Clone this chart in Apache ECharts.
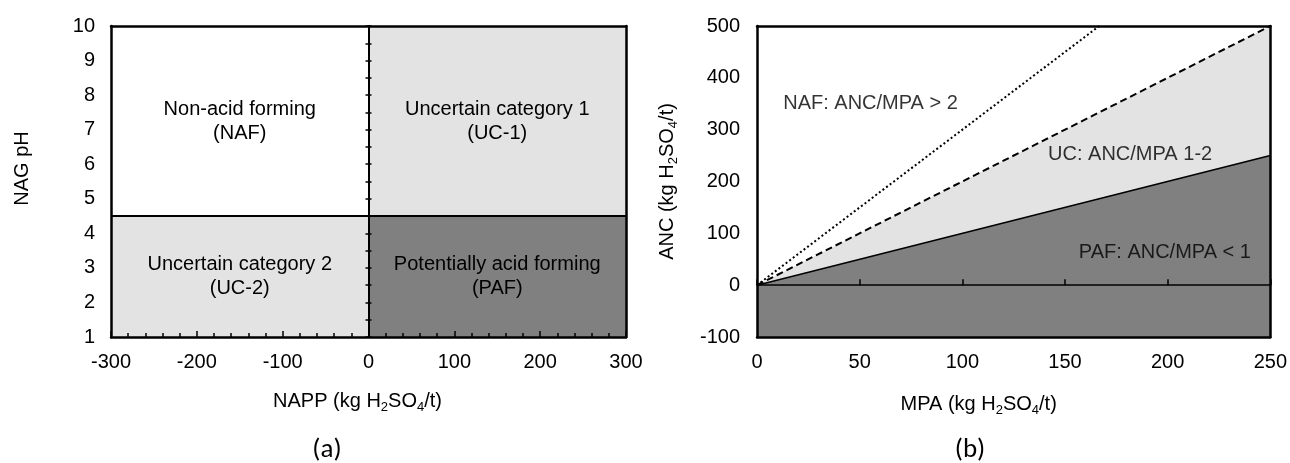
<!DOCTYPE html>
<html><head><meta charset="utf-8">
<script src="https://cdn.jsdelivr.net/npm/echarts@6/dist/echarts.min.js"></script>
<style>html,body{margin:0;padding:0;background:#fff}#c{width:1290px;height:463px}</style>
</head><body><div id="c"></div>
<script>
// ---------- Panel (a) data ----------
const nappTicks = [-300, -200, -100, 0, 100, 200, 300];
const nagPhTicks = [1, 2, 3, 4, 5, 6, 7, 8, 9, 10];
const nagPhThreshold = 4.5;
const classNamesA = ['Non-acid forming\n(NAF)', 'Uncertain category 1\n(UC-1)', 'Uncertain category 2\n(UC-2)', 'Potentially acid forming\n(PAF)'];
const classNappA = [[-300, 0], [0, 300], [-300, 0], [0, 300]];
const classPhA = [[4.5, 10], [4.5, 10], [1, 4.5], [1, 4.5]];

// ---------- Panel (b) data ----------
const mpaTicks = [0, 50, 100, 150, 200, 250];
const ancTicks = [-100, 0, 100, 200, 300, 400, 500];
const ratio3Mpa = [0, 166.7];
const ratio3Anc = [0, 500];
const ratio2Mpa = [0, 250];
const ratio2Anc = [0, 500];
const ratio1Mpa = [0, 250];
const ratio1Anc = [0, 250];
const classNamesB = ['NAF: ANC/MPA > 2', 'UC: ANC/MPA 1-2', 'PAF: ANC/MPA < 1'];
const classLabelMpa = [13, 142, 157];
const classLabelAnc = [350, 251, 62];

// ---------- styles ----------
const FONT = '"Liberation Sans", Arial, sans-serif';
const CAPTION_FONT = 'Carlito, Lato, sans-serif';
const BLACK = '#000';
const LIGHT = '#e3e3e3';
const DARK = '#808080';
const regionColorsA = ['#ffffff', LIGHT, LIGHT, DARK];

const pairs = (xs, ys) => xs.map((x, i) => [x, ys[i]]);
const subRich = {
  n: { fontSize: 20, color: BLACK, fontFamily: FONT },
  s: { fontSize: 13, color: BLACK, fontFamily: FONT, padding: [12, 0, 0, 0] }
};
const frameLine = { onZero: false, lineStyle: { color: BLACK, width: 2.5 } };
const hidden = { show: false };
const labelStyle = (margin) => ({ fontSize: 20, color: BLACK, fontFamily: FONT, margin });

const chart = echarts.init(document.getElementById('c'), null, { renderer: 'canvas' });
chart.setOption({
  animation: false,
  textStyle: { fontFamily: FONT },
  grid: [
    { left: 111, top: 26, width: 515, height: 311 },
    { left: 757, top: 26, width: 515, height: 311 }
  ],
  xAxis: [
    { gridIndex: 0, type: 'value', position: 'bottom', min: nappTicks[0], max: nappTicks[nappTicks.length - 1], interval: 100,
      axisLine: frameLine,
      axisTick: { show: true, inside: true, length: 6, lineStyle: { color: BLACK, width: 1.5 } },
      minorTick: { show: true, splitNumber: 5, length: 4, lineStyle: { color: BLACK, width: 1.5 } },
      splitLine: hidden, minorSplitLine: hidden, axisLabel: labelStyle(15),
      name: '{n|NAPP (kg H}{s|2}{n|SO}{s|4}{n|/t)}', nameLocation: 'middle', nameGap: 52,
      nameTextStyle: { rich: subRich, padding: [0, 22, 0, 0] }, z: 10 },
    { gridIndex: 0, type: 'value', position: 'top', min: -300, max: 300,
      axisLine: frameLine, axisTick: hidden, axisLabel: hidden, splitLine: hidden, z: 10 },
    { gridIndex: 1, type: 'value', position: 'bottom', min: mpaTicks[0], max: mpaTicks[mpaTicks.length - 1], interval: 50,
      axisLine: frameLine, axisTick: hidden, splitLine: hidden, axisLabel: labelStyle(15),
      name: '{n|MPA (kg H}{s|2}{n|SO}{s|4}{n|/t)}', nameLocation: 'middle', nameGap: 55,
      nameTextStyle: { rich: subRich, padding: [0, 70, 0, 0] }, z: 10 },
    { gridIndex: 1, type: 'value', position: 'top', min: 0, max: 250,
      axisLine: frameLine, axisTick: hidden, axisLabel: hidden, splitLine: hidden, z: 10 },
    { gridIndex: 1, type: 'value', position: 'bottom', min: 0, max: 250, interval: 50,
      axisLine: { onZero: true, onZeroAxisIndex: 4, lineStyle: { color: BLACK, width: 1.5 } },
      axisTick: { show: true, inside: true, length: 6, lineStyle: { color: BLACK, width: 1.5 } },
      axisLabel: hidden, splitLine: hidden, z: 10 }
  ],
  yAxis: [
    { gridIndex: 0, type: 'value', position: 'left', min: nagPhTicks[0], max: nagPhTicks[nagPhTicks.length - 1], interval: 1,
      axisLine: frameLine, axisTick: hidden, splitLine: hidden, axisLabel: labelStyle(16),
      name: 'NAG pH', nameLocation: 'middle', nameGap: 79,
      nameTextStyle: { fontSize: 20, color: BLACK, fontFamily: FONT, padding: [0, 0, 0, 26] }, z: 10 },
    { gridIndex: 0, type: 'value', position: 'right', min: 1, max: 10,
      axisLine: frameLine, axisTick: hidden, axisLabel: hidden, splitLine: hidden, z: 10 },
    { gridIndex: 0, type: 'value', position: 'left', min: 1, max: 10, interval: 0.5,
      axisLine: { onZero: true, onZeroAxisIndex: 0, lineStyle: { color: BLACK, width: 2 } },
      axisTick: { show: true, length: 3, lineStyle: { color: BLACK, width: 1.5 } },
      axisLabel: hidden, splitLine: hidden, z: 11 },
    { gridIndex: 0, type: 'value', position: 'right', min: 1, max: 10, interval: 0.5,
      axisLine: { show: false, onZero: true, onZeroAxisIndex: 0 },
      axisTick: { show: true, length: 3, lineStyle: { color: BLACK, width: 1.5 } },
      axisLabel: hidden, splitLine: hidden, z: 11 },
    { gridIndex: 1, type: 'value', position: 'left', min: ancTicks[0], max: ancTicks[ancTicks.length - 1], interval: 100,
      axisLine: frameLine, axisTick: hidden, splitLine: hidden, axisLabel: labelStyle(17),
      name: '{n|ANC (kg H}{s|2}{n|SO}{s|4}{n|/t)}', nameLocation: 'middle', nameGap: 77,
      nameTextStyle: { rich: subRich, padding: [0, 0, 0, 0] }, z: 10 },
    { gridIndex: 1, type: 'value', position: 'right', min: -100, max: 500,
      axisLine: frameLine, axisTick: hidden, axisLabel: hidden, splitLine: hidden, z: 10 }
  ],
  series: [
    { type: 'line', xAxisIndex: 0, yAxisIndex: 0, silent: true, symbol: 'none', z: 3,
      data: [[nappTicks[0], nagPhThreshold], [nappTicks[nappTicks.length - 1], nagPhThreshold]],
      lineStyle: { color: BLACK, width: 2 },
      markArea: {
        silent: true, z: 1,
        label: { show: true, position: 'inside', fontSize: 20, lineHeight: 24, color: BLACK, fontFamily: FONT },
        data: classNamesA.map((n, i) => [
          { name: n, coord: [classNappA[i][0], classPhA[i][0]], itemStyle: { color: regionColorsA[i], opacity: 1 } },
          { coord: [classNappA[i][1], classPhA[i][1]] }
        ])
      } },
    { type: 'line', xAxisIndex: 2, yAxisIndex: 4, silent: true, symbol: 'none', z: 2,
      data: pairs(ratio2Mpa, ratio2Anc),
      lineStyle: { color: BLACK, width: 2, type: [7, 4] },
      areaStyle: { color: LIGHT, opacity: 1, origin: 'start' } },
    { type: 'line', xAxisIndex: 2, yAxisIndex: 4, silent: true, symbol: 'none', z: 3,
      data: pairs(ratio1Mpa, ratio1Anc),
      lineStyle: { color: BLACK, width: 1.5 },
      areaStyle: { color: DARK, opacity: 1, origin: 'start' } },
    { type: 'line', xAxisIndex: 2, yAxisIndex: 4, silent: true, symbol: 'none', z: 4,
      data: pairs(ratio3Mpa, ratio3Anc),
      lineStyle: { color: BLACK, width: 2, type: [2, 2.5] } },
    { type: 'scatter', xAxisIndex: 2, yAxisIndex: 4, silent: true, z: 6, symbolSize: 1,
      itemStyle: { color: 'rgba(0,0,0,0)' },
      data: classNamesB.map((n, i) => ({ name: n, value: [classLabelMpa[i], classLabelAnc[i]] })),
      label: { show: true, position: [0, 0], align: 'left', verticalAlign: 'middle', formatter: '{b}',
        fontSize: 20, color: BLACK, fontFamily: FONT } }
  ],
  graphic: [
    { type: 'text', x: 327, y: 450, style: { text: '(a)', fontSize: 27, fontFamily: CAPTION_FONT, fill: BLACK, align: 'center', verticalAlign: 'middle' } },
    { type: 'text', x: 970, y: 450, style: { text: '(b)', fontSize: 27, fontFamily: CAPTION_FONT, fill: BLACK, align: 'center', verticalAlign: 'middle' } }
  ]
});
</script>
</body></html>
